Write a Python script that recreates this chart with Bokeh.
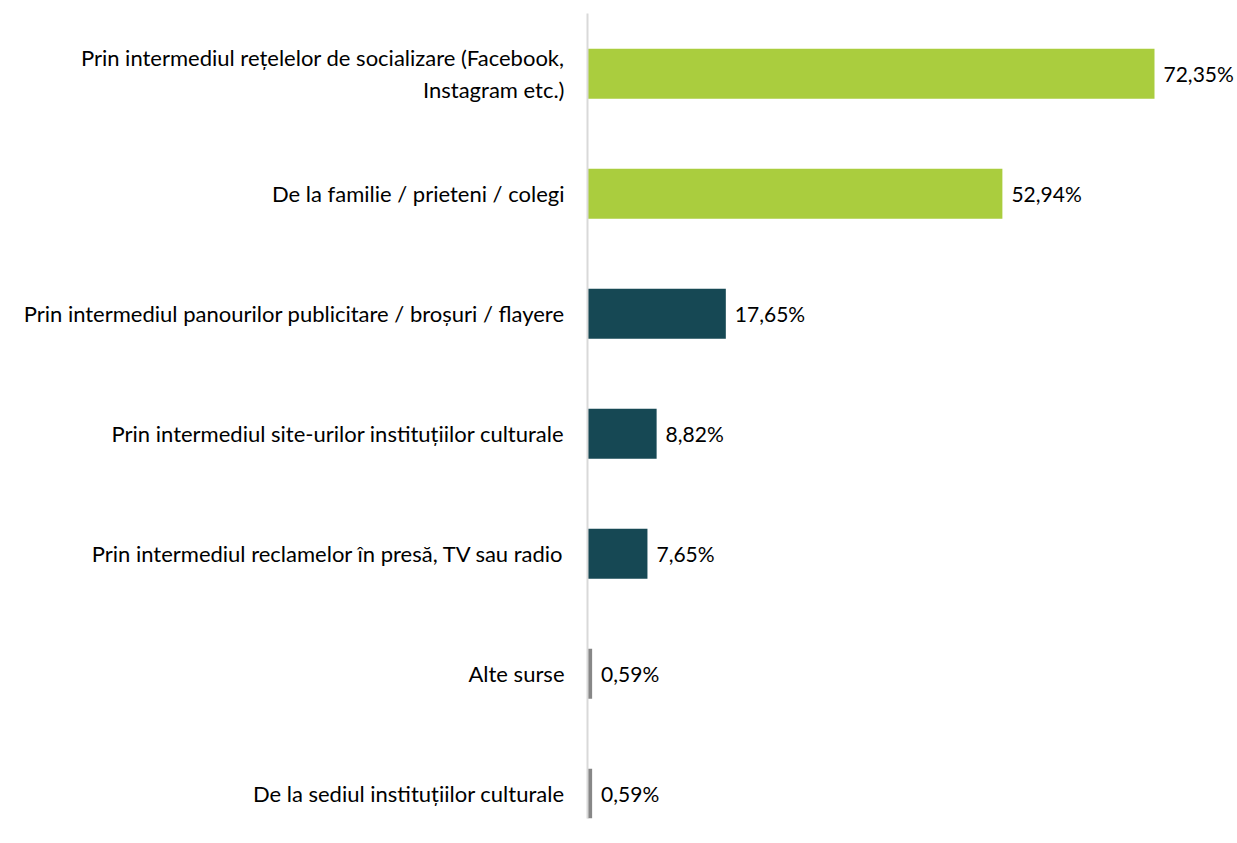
from bokeh.plotting import figure
from bokeh.models import ColumnDataSource, Range1d, FixedTicker
from bokeh.core.properties import value
from bokeh.embed import file_html
from bokeh.resources import INLINE

categories = [
    "Prin intermediul rețelelor de socializare (Facebook,\nInstagram etc.)",
    "De la familie / prieteni / colegi",
    "Prin intermediul panourilor publicitare / broșuri / flayere",
    "Prin intermediul site-urilor instituțiilor culturale",
    "Prin intermediul reclamelor în presă, TV sau radio",
    "Alte surse",
    "De la sediul instituțiilor culturale",
]
values = [72.35, 52.94, 17.65, 8.82, 7.65, 0.59, 0.59]
bar_colors = ["#aacd3e", "#aacd3e", "#164854", "#164854", "#164854", "#878787", "#878787"]

n = len(categories)
ypos = [n - 1 - i for i in range(n)]
labels = [f"{v:.2f}".replace(".", ",") + "%" for v in values]

src = ColumnDataSource(dict(y=ypos, v=values, c=bar_colors, lab=labels))

FONT = "Lato"
FSIZE = "22px"

p = figure(width=1237, height=835, output_backend="svg", toolbar_location=None,
           x_range=Range1d(0, 82.94), y_range=Range1d(-0.206, n - 1 + 0.5025),
           min_border_left=587, min_border_right=0, min_border_top=13, min_border_bottom=17)

p.hbar(y="y", left=0, right="v", height=0.4167, fill_color="c", line_color=None, source=src)
p.text(x="v", y="y", text="lab", source=src, x_offset=9, text_baseline="middle",
       text_align="left", text_font=value(FONT), text_font_size="21px", text_color="#000000")

p.xaxis.visible = False
p.xgrid.visible = False
p.ygrid.visible = False
p.outline_line_color = None

ya = p.yaxis[0]
ya.ticker = FixedTicker(ticks=ypos)
ya.major_label_overrides = {y: c for y, c in zip(ypos, categories)}
ya.major_tick_line_color = None
ya.minor_tick_line_color = None
ya.major_tick_out = 0
ya.major_tick_in = 0
ya.axis_line_color = "#d9d9d9"
ya.axis_line_width = 2
ya.major_label_standoff = 23
ya.major_label_text_font = FONT
ya.major_label_text_font_size = FSIZE
ya.major_label_text_color = "#000000"

open("out.html", "w").write(file_html(p, INLINE))
